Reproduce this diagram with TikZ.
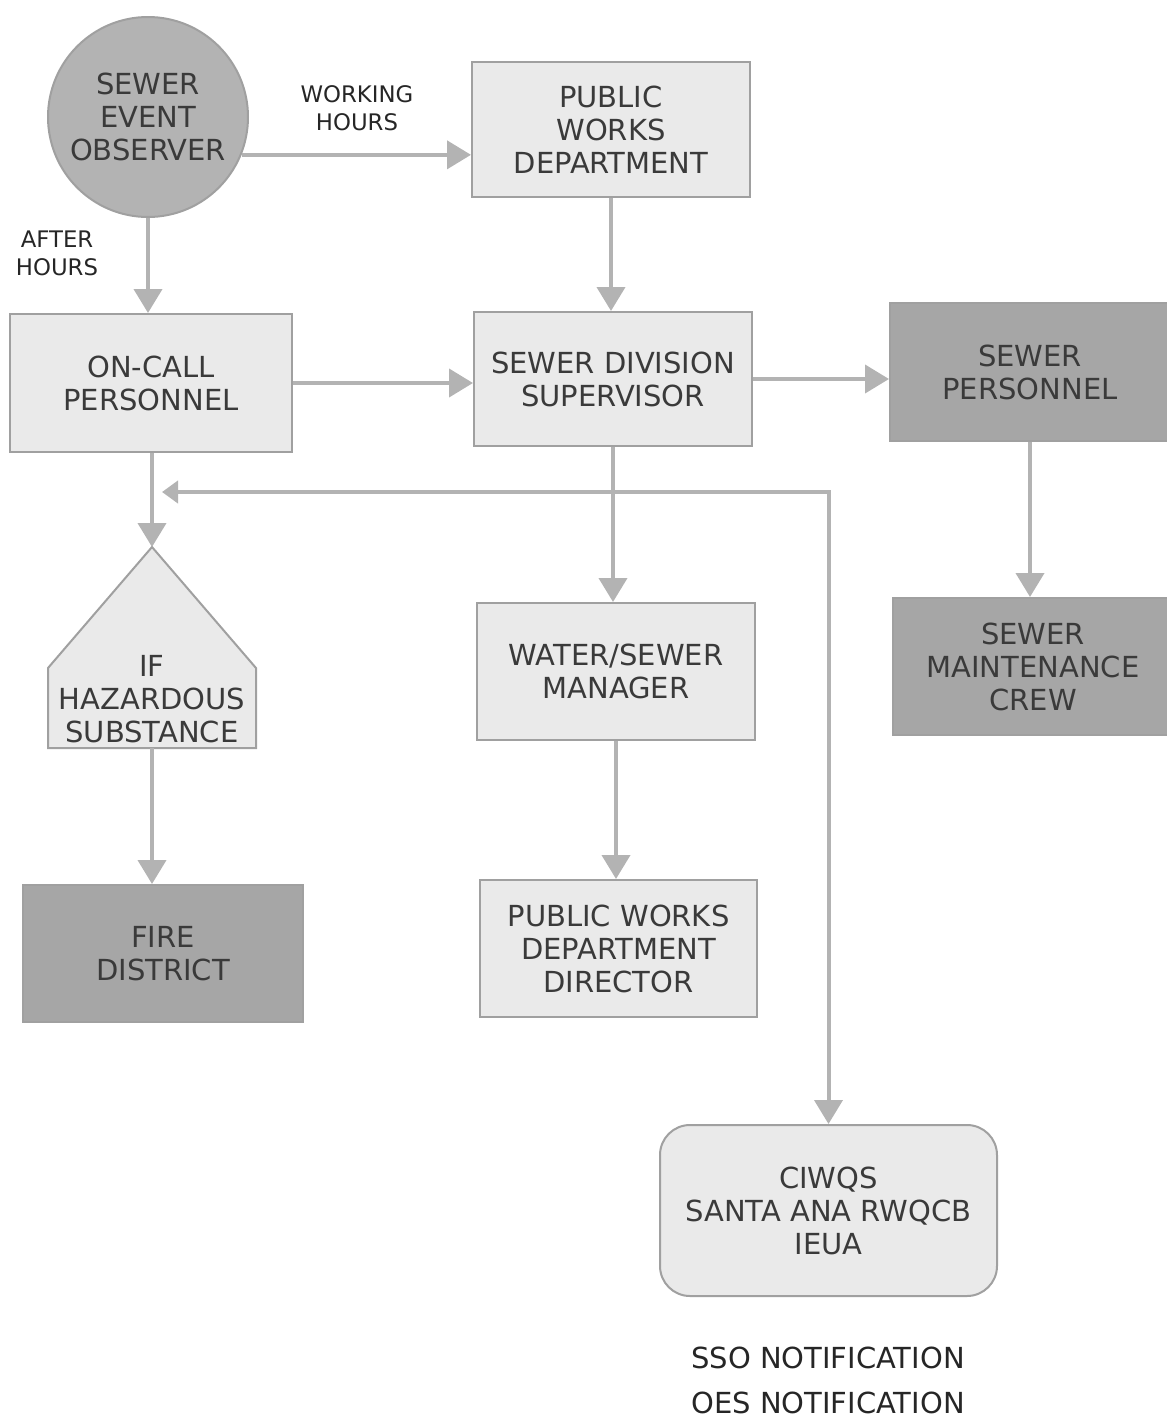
\documentclass[tikz,border=0pt]{standalone}
\usepackage{fontspec}
\setmainfont{DejaVu Sans}
\usetikzlibrary{arrows.meta}
\definecolor{lnc}{HTML}{B3B3B3}
\definecolor{lightf}{HTML}{EAEAEA}
\definecolor{darkf}{HTML}{A6A6A6}
\definecolor{bordc}{HTML}{A0A0A0}
\definecolor{txtc}{HTML}{3A3A3A}
\tikzset{
  base/.style={draw=bordc, line width=1pt, align=center, text=txtc, inner sep=0pt,
    font=\fontsize{14.5pt}{16.5pt}\selectfont},
  lbox/.style={base, fill=lightf},
  dbox/.style={base, fill=darkf},
  conn/.style={draw=lnc, line width=2pt, -{Triangle[width=14pt,length=12pt]}},
  biconn/.style={draw=lnc, line width=2pt, {Triangle[width=11pt,length=8pt]}-{Triangle[width=14pt,length=12pt]}},
  lbl/.style={align=center, text=black!85, font=\fontsize{11.4pt}{14pt}\selectfont},
  note/.style={text=black!85, font=\fontsize{14.5pt}{17pt}\selectfont}
}
\begin{document}
\begin{tikzpicture}[x=0.5pt,y=-0.5pt]
\useasboundingbox (0,0) rectangle (1167,1419);
% nodes
\node[base, circle, fill=darkf!85, minimum size=100pt] (obs) at (148,117) {SEWER\\EVENT\\OBSERVER};
\node[lbox, minimum width=139pt, minimum height=67.5pt] (pwd) at (611,129.5) {PUBLIC\\WORKS\\DEPARTMENT};
\node[lbox, minimum width=141pt, minimum height=69pt] (oncall) at (151,383) {ON-CALL\\PERSONNEL};
\node[lbox, minimum width=139pt, minimum height=67pt] (sds) at (613,379) {SEWER DIVISION\\SUPERVISOR};
\node[dbox, minimum width=140pt, minimum height=69pt] (sp) at (1030,372) {SEWER\\PERSONNEL};
\node[dbox, minimum width=140pt, minimum height=68.5pt] (crew) at (1033,666.5) {SEWER\\MAINTENANCE\\CREW};
\node[lbox, minimum width=139pt, minimum height=68.5pt] (mgr) at (616,671.5) {WATER/SEWER\\MANAGER};
\node[dbox, minimum width=140pt, minimum height=68.5pt] (fire) at (163,953.5) {FIRE\\DISTRICT};
\node[lbox, minimum width=138.5pt, minimum height=68.5pt] (dir) at (618.5,948.5) {PUBLIC WORKS\\DEPARTMENT\\DIRECTOR};
\node[lbox, rounded corners=15pt, minimum width=168.5pt, minimum height=85.5pt] (ciwqs) at (828.5,1210.5) {CIWQS\\SANTA ANA RWQCB\\IEUA};
% hazard pentagon
\draw[draw=bordc, line width=1pt, fill=lightf] (152,547) -- (256,668) -- (256,748) -- (48,748) -- (48,668) -- cycle;
\coordinate (hazTop) at (152,547);
\coordinate (hazBot) at (152,748);
\node[base, draw=none] (haz) at (152,699) {IF\\HAZARDOUS\\SUBSTANCE};
% labels
\node[lbl] (lwork) at (357,108) {WORKING\\HOURS};
\node[lbl] (lafter) at (57,253) {AFTER\\HOURS};
\node[note] (sso) at (828,1358) {SSO NOTIFICATION};
\node[note] (oes) at (828,1403) {OES NOTIFICATION};
% connectors
\draw[conn] (obs.-22) -- (obs.-22 -| pwd.west);
\draw[conn] (obs.south) -- (obs.south |- oncall.north);
\draw[conn] (pwd.south) -- (pwd.south |- sds.north);
\draw[conn] (oncall.east) -- (oncall.east -| sds.west);
\draw[conn] (sds.east) -- (sds.east -| sp.west);
\draw[conn] (sp.south) -- (sp.south |- crew.north);
\draw[conn] (sds.south) -- (sds.south |- mgr.north);
\draw[conn] (mgr.south) -- (mgr.south |- dir.north);
\draw[conn] (oncall.south -| hazTop) -- (hazTop);
\draw[conn] (hazBot) -- (hazBot |- fire.north);
\coordinate (hazL) at (162,492);
\draw[biconn] (hazL) -| (ciwqs.north);
\end{tikzpicture}
\end{document}
